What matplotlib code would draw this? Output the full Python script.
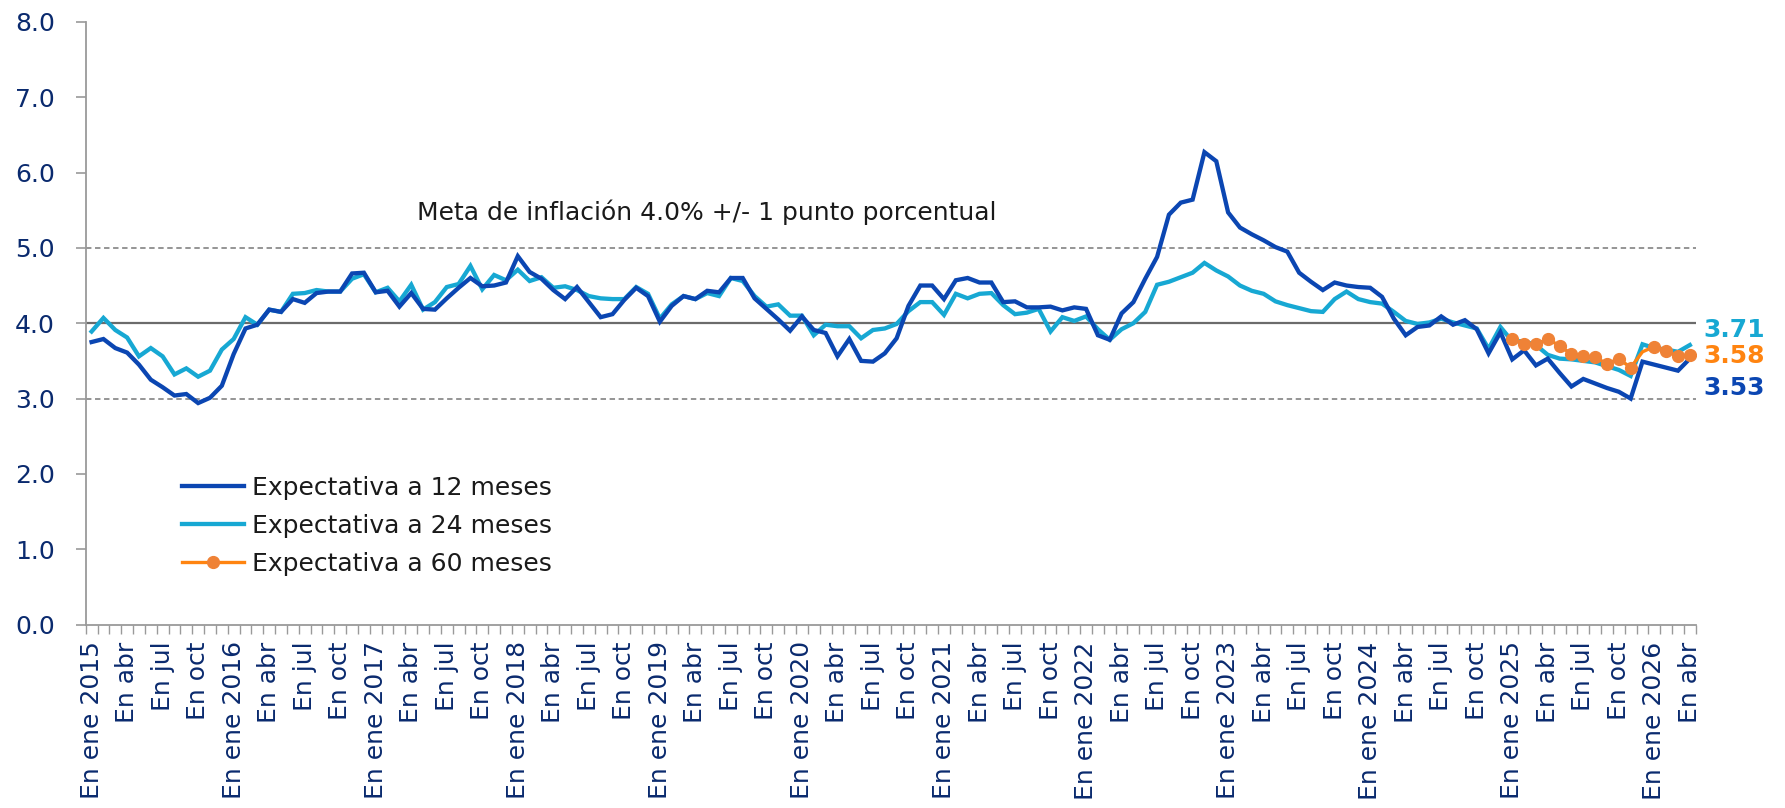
import numpy as np
import matplotlib
matplotlib.use("Agg")
import matplotlib.pyplot as plt

plt.rcParams['font.family'] = ['DejaVu Sans']

# ---------------- data ----------------
start_year = 2015
month_abbr = ["ene", "feb", "mar", "abr", "may", "jun", "jul", "ago", "sep", "oct", "nov", "dic"]

exp12 = [
    3.75, 3.79, 3.67, 3.61, 3.45, 3.25, 3.15, 3.04, 3.06, 2.94, 3.01, 3.17,
    3.59, 3.93, 3.98, 4.18, 4.15, 4.32, 4.27, 4.40, 4.42, 4.42, 4.66, 4.67,
    4.41, 4.43, 4.22, 4.40, 4.19, 4.18, 4.33, 4.47, 4.60, 4.49, 4.50, 4.54,
    4.89, 4.68, 4.59, 4.44, 4.32, 4.48, 4.28, 4.08, 4.12, 4.31, 4.47, 4.36,
    4.02, 4.23, 4.36, 4.32, 4.43, 4.41, 4.60, 4.60, 4.33, 4.19, 4.05, 3.90,
    4.09, 3.91, 3.87, 3.56, 3.79, 3.50, 3.49, 3.60, 3.80, 4.23, 4.50, 4.50,
    4.32, 4.57, 4.60, 4.54, 4.54, 4.28, 4.29, 4.21, 4.21, 4.22, 4.17, 4.21,
    4.19, 3.84, 3.78, 4.13, 4.28, 4.59, 4.88, 5.44, 5.60, 5.64, 6.27, 6.15,
    5.47, 5.27, 5.18, 5.10, 5.01, 4.95, 4.67, 4.55, 4.44, 4.54, 4.50, 4.48,
    4.47, 4.35, 4.06, 3.84, 3.95, 3.97, 4.09, 3.98, 4.04, 3.92, 3.60, 3.88,
    3.52, 3.64, 3.44, 3.53, 3.34, 3.16, 3.26, 3.20, 3.14, 3.09, 3.00, 3.49,
    3.45, 3.41, 3.37, 3.53,
]

exp24 = [
    3.89, 4.07, 3.91, 3.81, 3.56, 3.67, 3.56, 3.32, 3.40, 3.29, 3.37, 3.65,
    3.79, 4.08, 3.98, 4.18, 4.15, 4.39, 4.40, 4.44, 4.42, 4.42, 4.59, 4.65,
    4.41, 4.47, 4.29, 4.51, 4.18, 4.28, 4.48, 4.52, 4.76, 4.45, 4.64, 4.57,
    4.71, 4.56, 4.61, 4.47, 4.49, 4.44, 4.36, 4.33, 4.32, 4.32, 4.48, 4.39,
    4.06, 4.25, 4.36, 4.32, 4.40, 4.36, 4.60, 4.56, 4.36, 4.22, 4.25, 4.10,
    4.10, 3.84, 3.98, 3.96, 3.96, 3.80, 3.91, 3.93, 3.99, 4.16, 4.28, 4.28,
    4.11, 4.39, 4.33, 4.39, 4.40, 4.24, 4.12, 4.14, 4.19, 3.89, 4.08, 4.03,
    4.09, 3.92, 3.78, 3.92, 4.00, 4.15, 4.51, 4.55, 4.61, 4.67, 4.80, 4.70,
    4.62, 4.50, 4.43, 4.39, 4.29, 4.24, 4.20, 4.16, 4.15, 4.32, 4.42, 4.32,
    4.28, 4.26, 4.15, 4.03, 3.99, 4.01, 4.06, 4.01, 3.97, 3.93, 3.66, 3.95,
    3.76, 3.76, 3.71, 3.58, 3.53, 3.52, 3.50, 3.48, 3.43, 3.38, 3.30, 3.72,
    3.67, 3.65, 3.62, 3.71,
]

exp60 = [3.79, 3.73, 3.72, 3.79, 3.70, 3.59, 3.56, 3.55, 3.46, 3.53, 3.41,
         3.62, 3.69, 3.63, 3.56, 3.58]

meta_central = 4.0
meta_band = 1.0

legend_labels = ["Expectativa a 12 meses", "Expectativa a 24 meses", "Expectativa a 60 meses"]
meta_text = "Meta de inflación 4.0% +/- 1 punto porcentual"

# ---------------- derived ----------------
n = len(exp12)
x = np.arange(n)
x60 = np.arange(n - len(exp60), n)


def month_label(i):
    y, m = divmod(i, 12)
    if m == 0:
        return f"En ene {start_year + y}"
    return f"En {month_abbr[m]}"


label_pos = [i for i in range(n) if i % 3 == 0]
label_txt = [month_label(i) for i in label_pos]

# ---------------- styles ----------------
C12 = "#0B46B2"
C24 = "#17A8D3"
C60_LINE = "#FF8410"
C60_MK = "#EF8236"
NAVY = "#0A2A6E"
GREY = "#9A9A9A"
FS = 18

fig = plt.figure(figsize=(17.85, 8.08), dpi=100)
ax = fig.add_axes([0.048, 0.227, 0.902, 0.746])

ax.axhline(meta_central + meta_band, color="#8C8C8C", lw=1.3, ls=(0, (3, 2)), zorder=1)
ax.axhline(meta_central - meta_band, color="#8C8C8C", lw=1.3, ls=(0, (3, 2)), zorder=1)
ax.axhline(meta_central, color="#6B6B6B", lw=1.6, zorder=1)

l12, = ax.plot(x, exp12, color=C12, lw=3.1, zorder=3, solid_joinstyle="miter")
l24, = ax.plot(x, exp24, color=C24, lw=3.1, zorder=2, solid_joinstyle="miter")
mk_idx = [k for k in range(len(exp60)) if k != 11]
l60, = ax.plot(x60, exp60, color=C60_LINE, lw=2.4, marker="o", ms=8.5,
               mfc=C60_MK, mec=C60_MK, markevery=mk_idx, zorder=4)

ax.set_xlim(-0.5, n - 0.5)
ax.set_ylim(0, 8)

# y axis
ax.set_yticks(np.arange(0, 9, 1))
ax.set_yticklabels([f"{v:.1f}" for v in np.arange(0, 9, 1)])
ax.tick_params(axis="y", which="major", length=7, width=1.2, color=GREY,
               labelsize=FS, labelcolor=NAVY, pad=15, direction="out")

# x axis: boundaries as major ticks, labels at category centres as minor ticks
ax.set_xticks(np.arange(-0.5, n, 1.0))
ax.set_xticklabels([])
ax.tick_params(axis="x", which="major", length=6.5, width=1.0, color=GREY, direction="out")
ax.set_xticks(label_pos, minor=True)
ax.set_xticklabels(label_txt, minor=True, rotation=90, ha="center", va="top")
ax.tick_params(axis="x", which="minor", length=0, labelsize=FS, labelcolor=NAVY, pad=12)

for s in ["top", "right"]:
    ax.spines[s].set_visible(False)
for s in ["left", "bottom"]:
    ax.spines[s].set_color(GREY)
    ax.spines[s].set_linewidth(1.3)

ax.text(52.0, 5.47, meta_text, fontsize=FS, color="#1A1A1A", ha="center", va="center")

# end labels
ends = [(exp24[-1], C24, 11), (exp60[-1], C60_LINE, -1), (exp12[-1], C12, -21)]
for val, col, dy in ends:
    ax.annotate(f"{val:.2f}", xy=(x[-1], val), xytext=(10, dy), textcoords="offset points",
                fontsize=18, fontweight="bold", color=col, ha="left", va="center",
                annotation_clip=False)

leg = ax.legend([l12, l24, l60], legend_labels, loc="upper left",
                bbox_to_anchor=(0.06, 0.247), frameon=False, fontsize=FS,
                handlelength=2.45, handletextpad=0.33, labelspacing=0.57,
                borderaxespad=0, borderpad=0)
for t in leg.get_texts():
    t.set_color("#1A1A1A")

fig.savefig("out.png", dpi=100)
